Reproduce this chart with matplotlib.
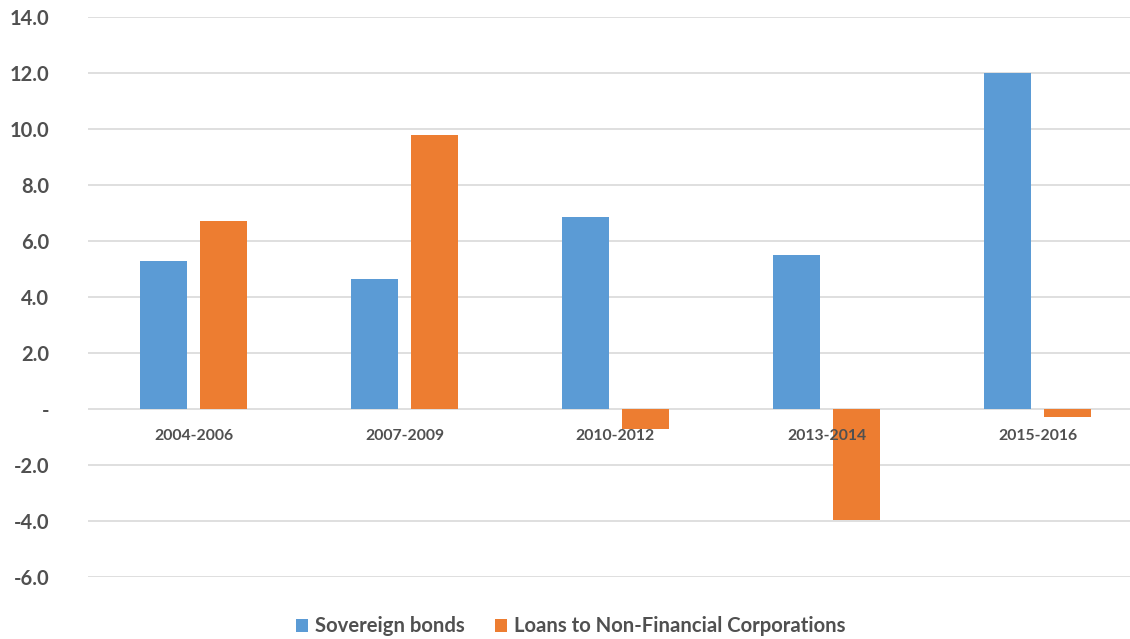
import matplotlib.pyplot as plt
import numpy as np
from matplotlib.ticker import FuncFormatter

# data
periods = ["2004-2006", "2007-2009", "2010-2012", "2013-2014", "2015-2016"]
sovereign = [5.3, 4.65, 6.85, 5.5, 12.0]
loans = [6.7, 9.8, -0.7, -3.95, -0.3]
series_names = ["Sovereign bonds", "Loans to Non-Financial Corporations"]

blue = "#5B9BD5"
orange = "#ED7D31"
text_col = "#505050"

plt.rcParams['font.family'] = ['Lato', 'DejaVu Sans']

fig = plt.figure(figsize=(11.3, 6.39), dpi=100)
ax = fig.add_axes([88 / 1130, 1 - 577 / 639, 1055 / 1130, 560 / 639])

x = np.arange(len(periods))
w = 0.22
off = 0.142
b1 = ax.bar(x - off, sovereign, w, color=blue, zorder=2, label=series_names[0])
b2 = ax.bar(x + off, loans, w, color=orange, zorder=2, label=series_names[1])

ax.set_xlim(-0.5, 4.5)
ax.set_ylim(-6, 14)
ax.set_yticks(np.arange(-6, 15, 2))
ax.yaxis.set_major_formatter(FuncFormatter(lambda v, p: "-" if abs(v) < 1e-9 else f"{v:.1f}"))
ax.tick_params(axis='y', length=0, pad=28, labelsize=14.5, labelcolor=text_col)
for lbl in ax.get_yticklabels():
    lbl.set_fontweight('bold')
ax.set_xticks([])
ax.grid(axis='y', color="#D9D9D9", linewidth=1.2, zorder=0)
for s in ax.spines.values():
    s.set_visible(False)

# category labels sit just under the zero line, on top of the bars
for i, p in enumerate(periods):
    ax.annotate(p, (i, 0), xytext=(0, -19.5), textcoords='offset points',
                ha='center', va='center', fontsize=11.3, fontweight='bold',
                color=text_col, zorder=5)

fig.legend(handles=[b1, b2], loc='center', bbox_to_anchor=(0.505, 0.02),
           ncol=2, frameon=False, handlelength=0.6, handleheight=0.6,
           handletextpad=0.35, columnspacing=1.5, labelcolor=text_col,
           prop={'weight': 'bold', 'size': 14.6})

fig.savefig("out.png", dpi=100)
